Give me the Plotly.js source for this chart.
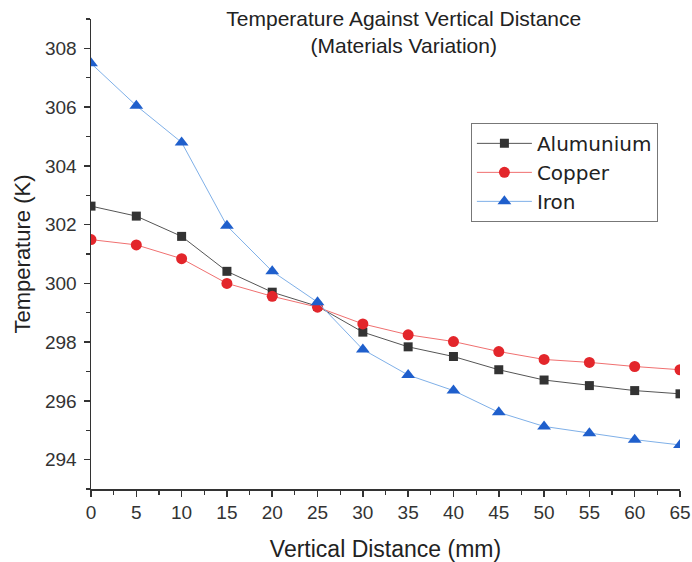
<!DOCTYPE html>
<html>
<head>
<meta charset="utf-8">
<script src="https://cdn.plot.ly/plotly-3.0.1.min.js"></script>
<style>html,body{margin:0;padding:0;background:#fff;}#chart{width:692px;height:562px;}</style>
</head>
<body>
<div id="chart"></div>
<script>
const distance = [0, 5, 10, 15, 20, 25, 30, 35, 40, 45, 50, 55, 60, 65];
const aluminium = [302.63, 302.29, 301.6, 300.41, 299.7, 299.22, 298.34, 297.84, 297.51, 297.06, 296.71, 296.52, 296.35, 296.24];
const copper = [301.49, 301.31, 300.84, 300.0, 299.56, 299.19, 298.62, 298.25, 298.02, 297.68, 297.41, 297.31, 297.17, 297.06];
const iron = [307.49, 306.05, 304.8, 301.96, 300.41, 299.36, 297.75, 296.88, 296.35, 295.61, 295.13, 294.9, 294.68, 294.5];
const seriesNames = ["Alumunium", "Copper", "Iron"];

const font = "Liberation Sans, Arial, sans-serif";
const legendFont = "DejaVu Sans, Verdana, sans-serif";
const traces = [
  {x: distance, y: aluminium, name: seriesNames[0], mode: "lines+markers",
   line: {color: "#555555", width: 1}, marker: {symbol: "square", size: 9, color: "#333333"}},
  {x: distance, y: copper, name: seriesNames[1], mode: "lines+markers",
   line: {color: "#f07070", width: 1}, marker: {symbol: "circle", size: 11, color: "#e3262b"}},
  {x: distance, y: iron, name: seriesNames[2], mode: "lines+markers",
   line: {color: "#7fb0e8", width: 1}, marker: {symbol: "triangle-up", size: 12, color: "#1f5fcc"}}
];

const layout = {
  width: 692, height: 562,
  margin: {l: 91, r: 12, t: 19, b: 73},
  paper_bgcolor: "#ffffff", plot_bgcolor: "#ffffff",
  font: {family: font, color: "#333333"},
  showlegend: true,
  title: {
    text: "Temperature Against Vertical Distance<br>(Materials Variation)",
    font: {family: font, size: 21, color: "#222222"},
    x: 0.531, xref: "paper", xanchor: "center",
    y: 1 - 26/562, yref: "container", yanchor: "top"
  },
  xaxis: {
    range: [0, 65], dtick: 5, tick0: 0,
    showgrid: false, zeroline: false,
    showline: true, linecolor: "#333333", linewidth: 1.5,
    ticks: "outside", ticklen: 6, tickwidth: 1.5, tickcolor: "#333333",
    minor: {ticks: "outside", ticklen: 4, tickwidth: 1.2, tickcolor: "#333333", dtick: 2.5, tick0: 0, showgrid: false},
    tickfont: {family: font, size: 19, color: "#333333"},
    title: {text: "Vertical Distance (mm)", font: {family: font, size: 23, color: "#222222"}, standoff: 20}
  },
  yaxis: {
    range: [293, 309], dtick: 2, tick0: 294,
    showgrid: false, zeroline: false,
    showline: true, linecolor: "#333333", linewidth: 1.5,
    ticks: "outside", ticklen: 6, tickwidth: 1.5, tickcolor: "#333333",
    ticklabelstandoff: 3,
    minor: {ticks: "outside", ticklen: 4, tickwidth: 1.2, tickcolor: "#333333", dtick: 1, tick0: 293, showgrid: false},
    tickfont: {family: font, size: 19, color: "#333333"},
    title: {text: "Temperature (K)", font: {family: font, size: 22, color: "#222222"}, standoff: 8}
  },
  legend: {
    x: 0.645, y: 0.779, xanchor: "left", yanchor: "top",
    bgcolor: "#ffffff", bordercolor: "#777777", borderwidth: 1,
    font: {family: legendFont, size: 20, color: "#222222"},
    itemwidth: 55,
    tracegroupgap: 0
  }
};

Plotly.newPlot("chart", traces, layout, {displayModeBar: false, staticPlot: true});
</script>
</body>
</html>
